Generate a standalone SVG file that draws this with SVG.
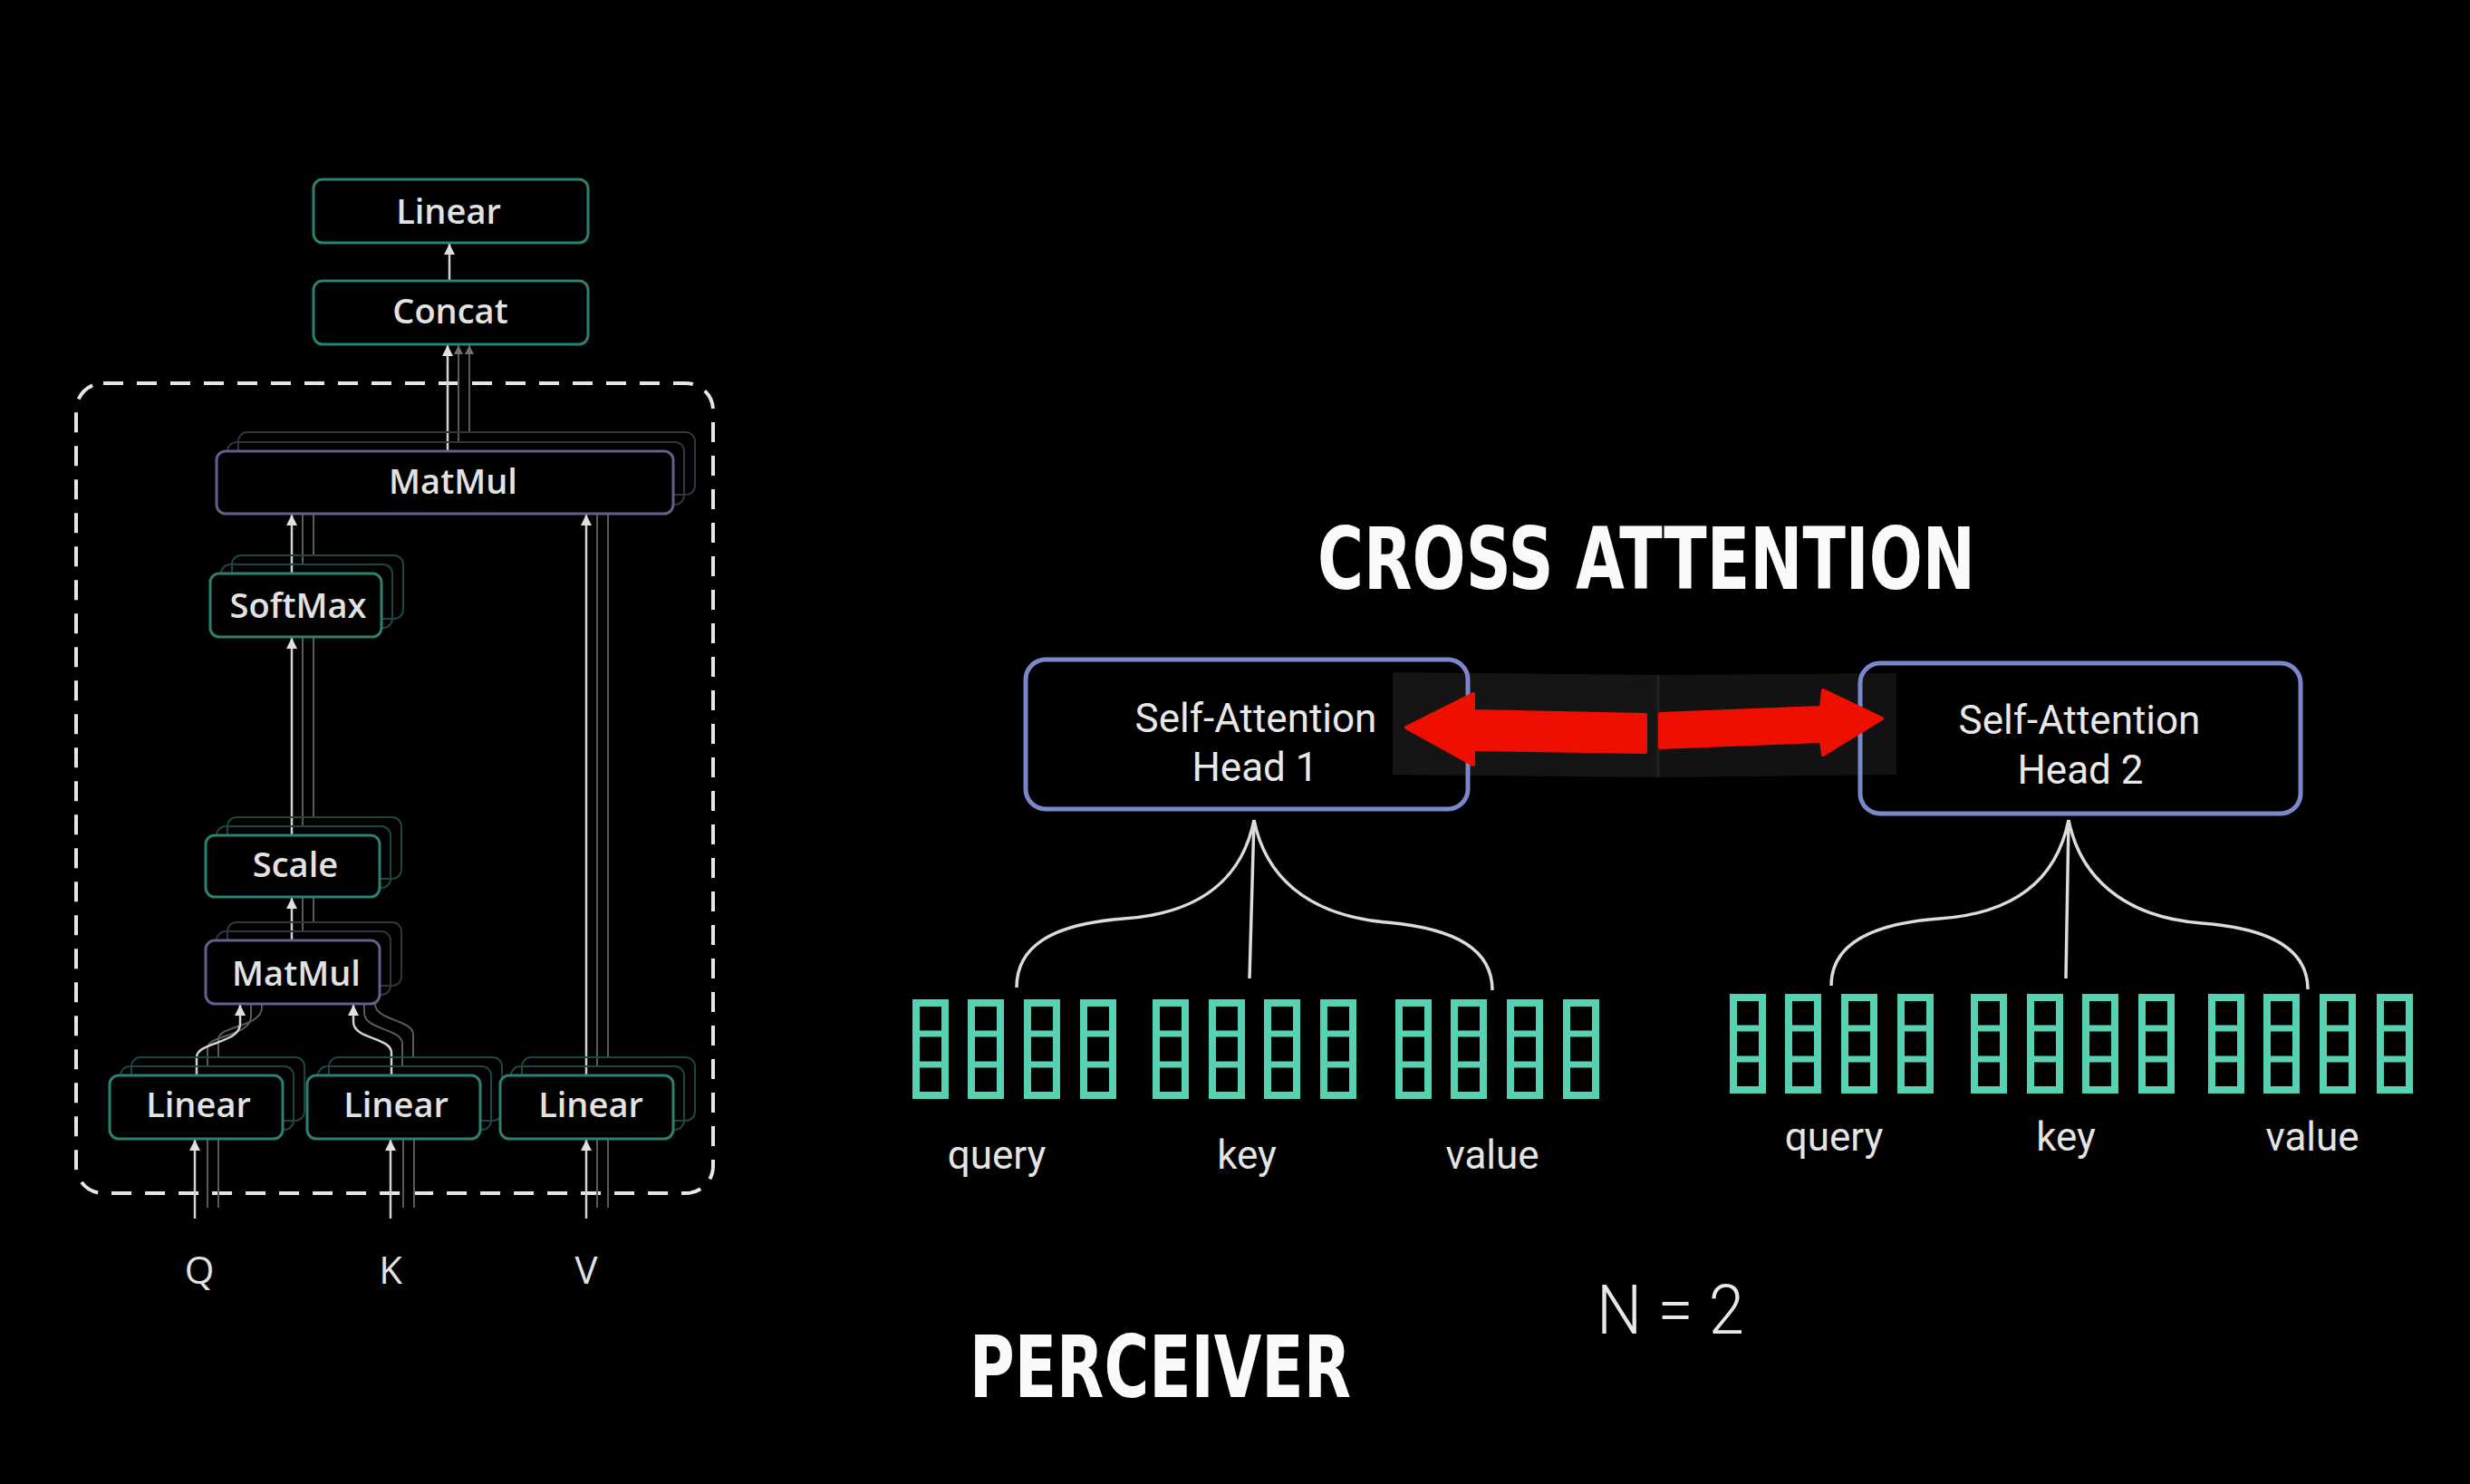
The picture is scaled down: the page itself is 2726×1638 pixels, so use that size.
<svg xmlns="http://www.w3.org/2000/svg" xmlns:xlink="http://www.w3.org/1999/xlink" width="2726" height="1638" viewBox="0 0 2726 1638">
<style>
.t{font-family:"Open Sans","Noto Sans",sans-serif;font-size:38px;font-weight:600;fill:#e2e2e2;text-anchor:middle}
.q{font-family:"Open Sans","Noto Sans",sans-serif;font-size:42px;fill:#e2e2e2;text-anchor:middle}
.teal{fill:#000;stroke:#2d8070;stroke-width:3}
.purp{fill:#000;stroke:#5e608e;stroke-width:3}
.sht{fill:none;stroke:#1d4640;stroke-width:2}
.shp{fill:none;stroke:#34343f;stroke-width:2}
.ln{fill:none;stroke:#d2d2d2;stroke-width:2.5}
.fl{fill:none;stroke:#5a5a5a;stroke-width:2}
.head{fill:none;stroke:#7c87cb;stroke-width:5}
.ht{font-family:Roboto,"Liberation Sans",sans-serif;font-size:44px;fill:#e8e8e8;text-anchor:middle}
.br{fill:none;stroke:#dcdcdc;stroke-width:3.5}
.lab{font-family:Roboto,"Liberation Sans",sans-serif;font-size:44px;fill:#e4e4e4;text-anchor:middle}
.big{font-family:"DejaVu Sans","Liberation Sans",sans-serif;font-weight:bold;font-size:94px;fill:#fafafa}
.red{fill:#ee0f00;stroke:#ee0f00;stroke-width:4;stroke-linejoin:round}
</style>
<defs>
<marker id="ah" viewBox="0 0 10 10" refX="10" refY="5" markerWidth="12" markerHeight="14" markerUnits="userSpaceOnUse" orient="auto"><path d="M0,0 L10,5 L0,10 z" fill="#e0e0e0"/></marker>
<marker id="af" viewBox="0 0 10 10" refX="10" refY="5" markerWidth="10" markerHeight="12" markerUnits="userSpaceOnUse" orient="auto"><path d="M0,0 L10,5 L0,10 z" fill="#707070"/></marker>
<g id="col"><rect x="4" y="4" width="32" height="102" fill="none" stroke="#56d1b1" stroke-width="8"/><path d="M4,38 H36 M4,72 H36" stroke="#56d1b1" stroke-width="7"/></g>
</defs>
<rect width="2726" height="1638" fill="#000"/>

<!-- dashed multi-head container -->
<rect id="container" x="84" y="423" width="703" height="894" rx="30" fill="none" stroke="#e6e6e6" stroke-width="4" stroke-dasharray="22 15"/>

<!-- patches behind red arrows -->
<polygon points="1537,742 1830,745 1830,858 1537,855" fill="#151515"/>
<polygon points="1830,745 2093,743 2093,855 1830,858" fill="#121212"/>
<line x1="1830" y1="745" x2="1830" y2="858" stroke="#222" stroke-width="3"/>

<g id="connectors">
  <line class="ln" x1="496" y1="310" x2="496" y2="269" marker-end="url(#ah)"/>
  <line class="fl" x1="506" y1="488" x2="506" y2="381" marker-end="url(#af)"/>
  <line class="fl" x1="518" y1="477" x2="518" y2="381" marker-end="url(#af)"/>
  <line class="ln" x1="494" y1="498" x2="494" y2="381" marker-end="url(#ah)"/>
  <line class="fl" x1="334" y1="623" x2="334" y2="557"/>
  <line class="fl" x1="346" y1="613" x2="346" y2="546"/>
  <line class="ln" x1="322" y1="633" x2="322" y2="568" marker-end="url(#ah)"/>
  <line class="fl" x1="659" y1="1177" x2="659" y2="557"/>
  <line class="fl" x1="671" y1="1167" x2="671" y2="546"/>
  <line class="ln" x1="647" y1="1187" x2="647" y2="568" marker-end="url(#ah)"/>
  <line class="fl" x1="334" y1="912" x2="334" y2="693"/>
  <line class="fl" x1="346" y1="902" x2="346" y2="683"/>
  <line class="ln" x1="322" y1="922" x2="322" y2="704" marker-end="url(#ah)"/>
  <line class="fl" x1="334" y1="1028" x2="334" y2="980"/>
  <line class="fl" x1="346" y1="1018" x2="346" y2="970"/>
  <line class="ln" x1="322" y1="1038" x2="322" y2="991" marker-end="url(#ah)"/>
  <path class="fl" d="M229,1177 V1157 C229,1142 277,1144 277,1122 V1098"/>
  <path class="fl" d="M241,1167 V1147 C241,1132 289,1134 289,1112 V1088"/>
  <path class="ln" d="M217,1187 V1167 C217,1150 265,1152 265,1130 V1109" marker-end="url(#ah)"/>
  <path class="fl" d="M444,1177 V1152 C444,1135 402,1137 402,1118 V1098"/>
  <path class="fl" d="M456,1167 V1142 C456,1125 414,1127 414,1108 V1088"/>
  <path class="ln" d="M432,1187 V1162 C432,1145 390,1147 390,1128 V1109" marker-end="url(#ah)"/>
  <line class="fl" x1="229" y1="1333" x2="229" y2="1257"/>
  <line class="fl" x1="241" y1="1333" x2="241" y2="1247"/>
  <line class="ln" x1="215" y1="1345" x2="215" y2="1258" marker-end="url(#ah)"/>
  <line class="fl" x1="445" y1="1333" x2="445" y2="1257"/>
  <line class="fl" x1="457" y1="1333" x2="457" y2="1247"/>
  <line class="ln" x1="431" y1="1345" x2="431" y2="1258" marker-end="url(#ah)"/>
  <line class="fl" x1="659" y1="1333" x2="659" y2="1257"/>
  <line class="fl" x1="671" y1="1333" x2="671" y2="1247"/>
  <line class="ln" x1="647" y1="1345" x2="647" y2="1258" marker-end="url(#ah)"/>
  <path class="br" d="M1384,905 C1372,965 1330,1008 1240,1014 C1160,1020 1122,1045 1122,1090"/>
  <path class="br" d="M1384,905 C1396,965 1440,1010 1530,1018 C1610,1025 1647,1050 1647,1093"/>
  <line class="br" x1="1384" y1="905" x2="1379" y2="1080"/>
  <path class="br" d="M2283,905 C2271,965 2230,1008 2140,1014 C2060,1020 2021,1045 2021,1088"/>
  <path class="br" d="M2283,905 C2295,965 2340,1012 2430,1019 C2510,1025 2547,1050 2547,1092"/>
  <line class="br" x1="2283" y1="905" x2="2280" y2="1080"/>
</g>

<g id="node-linear-out"><rect class="teal" x="346" y="198" width="303" height="70" rx="10"/><text class="t" x="495" y="247">Linear</text></g>
<g id="node-concat"><rect class="teal" x="346" y="310" width="303" height="70" rx="10"/><text class="t" x="497" y="357">Concat</text></g>
<g id="node-matmul-out">
  <rect class="shp" x="263" y="477" width="504" height="69" rx="10"/>
  <rect class="shp" x="251" y="488" width="504" height="69" rx="10"/>
  <rect class="purp" x="239" y="498" width="504" height="69" rx="10"/>
  <text class="t" x="500" y="545">MatMul</text>
</g>
<g id="node-softmax">
  <rect class="sht" x="256" y="613" width="189" height="70" rx="10"/>
  <rect class="sht" x="244" y="623" width="189" height="70" rx="10"/>
  <rect class="teal" x="232" y="633" width="189" height="70" rx="10"/>
  <text class="t" x="329" y="682">SoftMax</text>
</g>
<g id="node-scale">
  <rect class="sht" x="251" y="902" width="192" height="68" rx="10"/>
  <rect class="sht" x="239" y="912" width="192" height="68" rx="10"/>
  <rect class="teal" x="227" y="922" width="192" height="68" rx="10"/>
  <text class="t" x="326" y="968">Scale</text>
</g>
<g id="node-matmul-in">
  <rect class="shp" x="251" y="1018" width="192" height="70" rx="10"/>
  <rect class="shp" x="239" y="1028" width="192" height="70" rx="10"/>
  <rect class="purp" x="227" y="1038" width="192" height="70" rx="10"/>
  <text class="t" x="327" y="1088">MatMul</text>
</g>
<g id="node-linear-q">
  <rect class="sht" x="145" y="1167" width="191" height="70" rx="10"/>
  <rect class="sht" x="133" y="1177" width="191" height="70" rx="10"/>
  <rect class="teal" x="121" y="1187" width="191" height="70" rx="10"/>
  <text class="t" x="219" y="1233">Linear</text>
</g>
<g id="node-linear-k">
  <rect class="sht" x="363" y="1167" width="191" height="70" rx="10"/>
  <rect class="sht" x="351" y="1177" width="191" height="70" rx="10"/>
  <rect class="teal" x="339" y="1187" width="191" height="70" rx="10"/>
  <text class="t" x="437" y="1233">Linear</text>
</g>
<g id="node-linear-v">
  <rect class="sht" x="576" y="1167" width="191" height="70" rx="10"/>
  <rect class="sht" x="564" y="1177" width="191" height="70" rx="10"/>
  <rect class="teal" x="552" y="1187" width="191" height="70" rx="10"/>
  <text class="t" x="652" y="1233">Linear</text>
</g>
<g id="inputs">
  <text class="q" x="220" y="1417">Q</text>
  <text class="q" x="431" y="1417">K</text>
  <text class="q" x="647" y="1417">V</text>
</g>

<g id="node-head1"><rect class="head" x="1132" y="728" width="488" height="165" rx="22"/><text class="ht" x="1386" y="808">Self-Attention</text><text class="ht" x="1385" y="862">Head 1</text></g>
<g id="node-head2"><rect class="head" x="2053" y="732" width="486" height="166" rx="22"/><text class="ht" x="2295" y="810">Self-Attention</text><text class="ht" x="2296" y="865">Head 2</text></g>

<g id="tokens1">
  <use href="#col" x="1007" y="1103"/><use href="#col" x="1068" y="1103"/><use href="#col" x="1130" y="1103"/><use href="#col" x="1192" y="1103"/>
  <use href="#col" x="1272" y="1103"/><use href="#col" x="1334" y="1103"/><use href="#col" x="1395" y="1103"/><use href="#col" x="1457" y="1103"/>
  <use href="#col" x="1540" y="1103"/><use href="#col" x="1601" y="1103"/><use href="#col" x="1663" y="1103"/><use href="#col" x="1725" y="1103"/>
  <text class="lab" x="1100" y="1290">query</text><text class="lab" x="1376" y="1290">key</text><text class="lab" x="1647" y="1290">value</text>
</g>
<g id="tokens2">
  <use href="#col" x="1909" y="1097"/><use href="#col" x="1970" y="1097"/><use href="#col" x="2032" y="1097"/><use href="#col" x="2094" y="1097"/>
  <use href="#col" x="2175" y="1097"/><use href="#col" x="2237" y="1097"/><use href="#col" x="2298" y="1097"/><use href="#col" x="2360" y="1097"/>
  <use href="#col" x="2437" y="1097"/><use href="#col" x="2498" y="1097"/><use href="#col" x="2560" y="1097"/><use href="#col" x="2623" y="1097"/>
  <text class="lab" x="2024" y="1270">query</text><text class="lab" x="2280" y="1270">key</text><text class="lab" x="2552" y="1270">value</text>
</g>

<g id="red-arrows">
  <polygon class="red" points="1552,803 1626,766 1626,785 1816,789 1816,830 1626,827 1626,844"/>
  <polygon class="red" points="1832,788 2010,781 2012,762 2077,793 2012,833 2010,818 1832,825"/>
</g>

<text class="big" x="1454" y="650" textLength="726" lengthAdjust="spacingAndGlyphs">CROSS ATTENTION</text>
<text class="big" x="1070" y="1542" textLength="421" lengthAdjust="spacingAndGlyphs">PERCEIVER</text>
<text x="1762" y="1472" textLength="163" lengthAdjust="spacingAndGlyphs" style="font-family:Roboto,'Liberation Sans',sans-serif;font-weight:300;font-size:76px;fill:#e8e8e8">N = 2</text>
</svg>
